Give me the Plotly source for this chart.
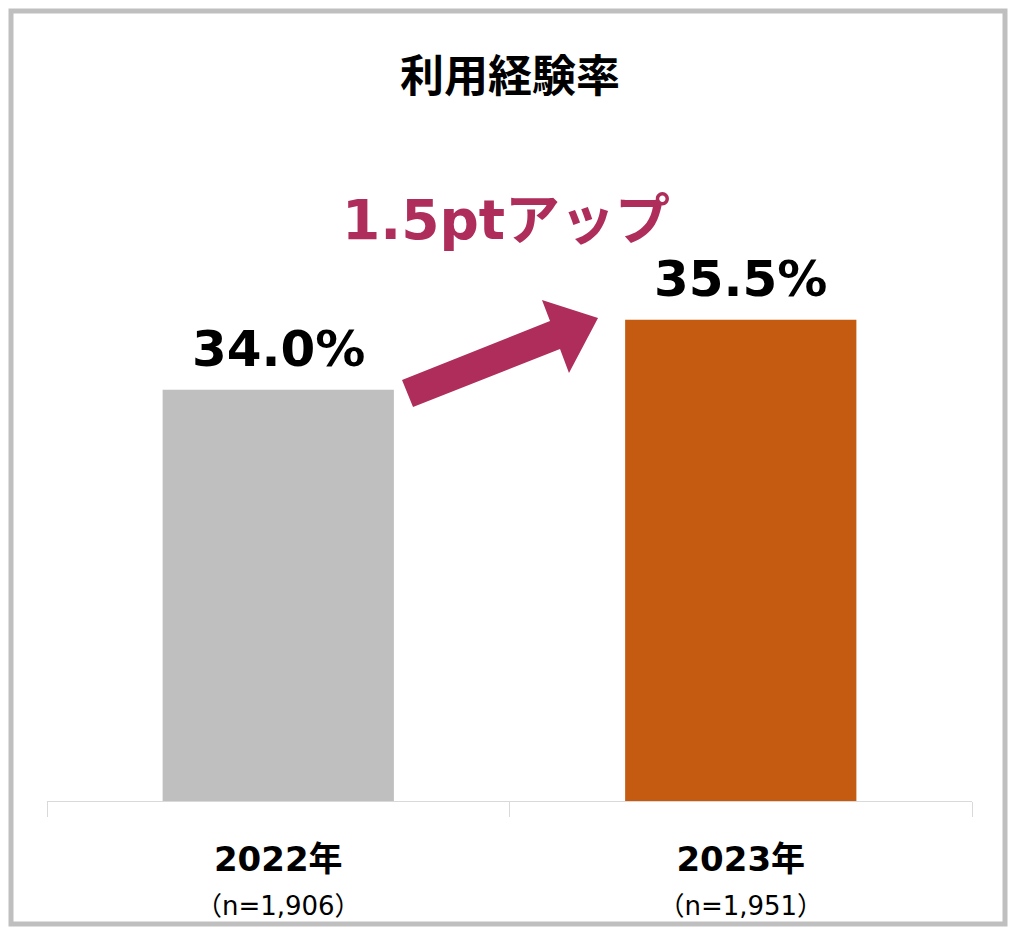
import plotly.graph_objects as go

# ---- data ----
categories = ["2022年", "2023年"]
sample_sizes = ["（n=1,906）", "（n=1,951）"]
values = [34.0, 35.5]
bar_colors = ["#BFBFBF", "#C55A11"]
title_text = "利用経験率"
delta_text = "1.5ptアップ"

W, H = 1024, 935
ML, MR, MT, MB = 47, 52, 100, 134
PW, PH = W - ML - MR, H - MT - MB


def px(x, y):
    """pixel -> paper coords"""
    return (x - ML) / PW, (H - MB - y) / PH


NUM_FONT = "DejaVu Sans, Noto Sans CJK JP, sans-serif"
CJK_FONT = "Noto Sans CJK JP, DejaVu Sans, sans-serif"

fig = go.Figure()
fig.add_trace(go.Bar(
    x=categories, y=values, width=0.5,
    marker=dict(color=bar_colors, line=dict(width=0)),
    hoverinfo="skip",
))

ticktext = [
    f"<b>{c}</b><br><span style='font-size:26px;font-weight:normal'>{n}</span>"
    for c, n in zip(categories, sample_sizes)
]

fig.update_layout(
    width=W, height=H,
    margin=dict(l=ML, r=MR, t=MT, b=MB),
    paper_bgcolor="white", plot_bgcolor="white",
    showlegend=False,
    xaxis=dict(
        type="category", tickvals=categories, ticktext=ticktext,
        tickson="boundaries", ticks="outside", ticklen=15, tickcolor="#D9D9D9", tickwidth=1,
        showline=True, linecolor="#D9D9D9", linewidth=1,
        showgrid=False, zeroline=False,
        tickfont=dict(family=NUM_FONT, size=34, color="black"),
        ticklabelstandoff=28,
    ),
    yaxis=dict(range=[25.19, 40.21], visible=False, showgrid=False, zeroline=False),
)

# value labels above bars
for c, v in zip(categories, values):
    fig.add_annotation(
        x=c, y=v, xref="x", yref="y", text=f"<b>{v:.1f}%</b>",
        showarrow=False, yanchor="bottom", yshift=10,
        font=dict(family=NUM_FONT, size=50, color="black"),
    )

# title
tx, ty = px(510, 73)
fig.add_annotation(x=tx, y=ty, xref="paper", yref="paper", text=f"<b>{title_text}</b>",
                   showarrow=False, xanchor="center", yanchor="middle",
                   font=dict(family=CJK_FONT, size=44, color="black"))

# delta text
dx, dy = px(506, 220)
fig.add_annotation(x=dx, y=dy, xref="paper", yref="paper", text=f"<b>{delta_text}</b>",
                   showarrow=False, xanchor="center", yanchor="middle",
                   font=dict(family=NUM_FONT, size=55, color="#AE2D5B"))

# arrow polygon
pts = [(402, 380), (550, 321), (542, 300), (598, 318), (569, 373), (560, 349), (413, 407)]
path = "M " + " L ".join(f"{px(x, y)[0]:.4f},{px(x, y)[1]:.4f}" for x, y in pts) + " Z"
fig.add_shape(type="path", xref="paper", yref="paper", path=path,
              fillcolor="#AE2D5B", line=dict(width=0))

# outer frame
x0, y0 = px(11, 11)
x1, y1 = px(1005, 924)
fig.add_shape(type="rect", xref="paper", yref="paper", x0=x0, y0=y1, x1=x1, y1=y0,
              line=dict(color="#BFBFBF", width=5), fillcolor="rgba(0,0,0,0)", layer="below")

fig.write_html("out.html")
